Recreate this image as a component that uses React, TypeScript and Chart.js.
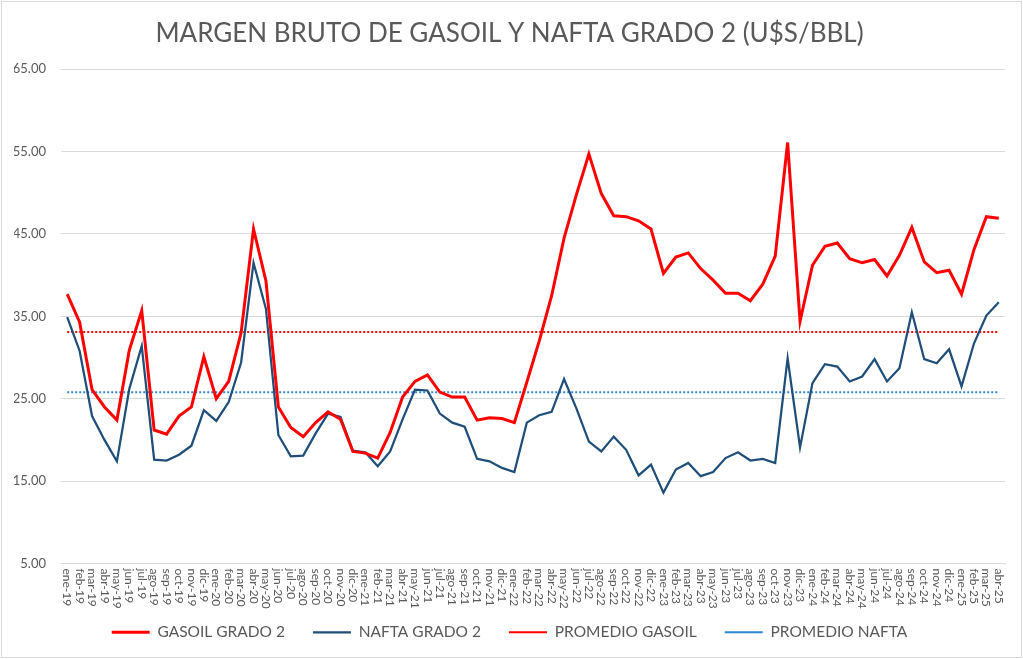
import React, { useEffect, useRef } from "react";
import { Chart, registerables } from "chart.js";

Chart.register(...registerables);

const TITLE = "MARGEN BRUTO DE GASOIL Y NAFTA GRADO 2 (U$S/BBL)";

const LABELS: string[] = [
  "ene-19", "feb-19", "mar-19", "abr-19", "may-19", "jun-19", "jul-19", "ago-19", "sep-19", "oct-19", "nov-19", "dic-19",
  "ene-20", "feb-20", "mar-20", "abr-20", "may-20", "jun-20", "jul-20", "ago-20", "sep-20", "oct-20", "nov-20", "dic-20",
  "ene-21", "feb-21", "mar-21", "abr-21", "may-21", "jun-21", "jul-21", "ago-21", "sep-21", "oct-21", "nov-21", "dic-21",
  "ene-22", "feb-22", "mar-22", "abr-22", "may-22", "jun-22", "jul-22", "ago-22", "sep-22", "oct-22", "nov-22", "dic-22",
  "ene-23", "feb-23", "mar-23", "abr-23", "may-23", "jun-23", "jul-23", "ago-23", "sep-23", "oct-23", "nov-23", "dic-23",
  "ene-24", "feb-24", "mar-24", "abr-24", "may-24", "jun-24", "jul-24", "ago-24", "sep-24", "oct-24", "nov-24", "dic-24",
  "ene-25", "feb-25", "mar-25", "abr-25",
];

const GASOIL: number[] = [
  37.7, 34.3, 26.1, 24.0, 22.4, 30.9, 35.7, 21.2, 20.7, 22.9, 24.0, 30.1,
  25.0, 27.1, 33.0, 45.6, 39.3, 24.0, 21.5, 20.4, 22.1, 23.4, 22.5, 18.6,
  18.4, 17.8, 20.9, 25.2, 27.1, 27.9, 25.8, 25.2, 25.2, 22.4, 22.7, 22.6,
  22.1, 27.0, 32.0, 37.5, 44.5, 49.8, 54.7, 49.9, 47.2, 47.1, 46.6, 45.6,
  40.2, 42.2, 42.7, 40.8, 39.4, 37.8, 37.8, 36.9, 38.9, 42.3, 56.1, 34.4,
  41.2, 43.5, 43.9, 42.0, 41.5, 41.9, 39.9, 42.4, 45.8, 41.6, 40.3, 40.6,
  37.7, 43.1, 47.1, 46.9,
];

const NAFTA: number[] = [
  34.9, 30.8, 22.9, 20.0, 17.4, 26.2, 31.4, 17.6, 17.5, 18.2, 19.3, 23.6,
  22.3, 24.6, 29.4, 41.5, 35.9, 20.6, 18.0, 18.1, 20.8, 23.2, 22.8, 18.7,
  18.5, 16.8, 18.6, 22.5, 26.1, 26.0, 23.2, 22.1, 21.6, 17.7, 17.4, 16.6,
  16.1, 22.1, 23.0, 23.4, 27.4, 23.8, 19.8, 18.6, 20.4, 18.8, 15.7, 17.0,
  13.6, 16.4, 17.2, 15.6, 16.1, 17.8, 18.5, 17.5, 17.7, 17.2, 29.9, 19.1,
  26.9, 29.2, 28.9, 27.1, 27.7, 29.8, 27.1, 28.7, 35.5, 29.8, 29.3, 31.0,
  26.5, 31.7, 35.1, 36.7,
];

const PROMEDIO_GASOIL = 33.1;
const PROMEDIO_NAFTA = 25.8;

const Y_MIN = 5;
const Y_MAX = 65;
const Y_STEP = 10;

const TEXT = "#595959";
const GRID = "#d9d9d9";

const xLabelPlugin = {
  id: "xLabelsDown",
  afterDraw(chart: any) {
    const { ctx, chartArea } = chart;
    const x = chart.scales.x;
    ctx.save();
    ctx.font = "12px Lato";
    ctx.fillStyle = TEXT;
    ctx.textAlign = "left";
    ctx.textBaseline = "middle";
    LABELS.forEach((lab, i) => {
      const px = x.getPixelForValue(i);
      ctx.save();
      ctx.translate(px, chartArea.bottom + 5);
      ctx.rotate(Math.PI / 2);
      ctx.fillText(lab, 0, 0);
      ctx.restore();
    });
    ctx.restore();
  },
};

export default function App() {
  const ref = useRef<HTMLCanvasElement | null>(null);

  useEffect(() => {
    document.body.style.margin = "0";
    if (!ref.current) return;
    Chart.defaults.font.family = "Lato";
    const chart = new Chart(ref.current, {
      type: "line",
      data: {
        labels: LABELS,
        datasets: [
          {
            label: "GASOIL GRADO 2",
            data: GASOIL,
            borderColor: "#ff0000",
            backgroundColor: "#ff0000",
            borderWidth: 3,
            pointRadius: 0,
            pointStyle: "line",
            tension: 0,
          },
          {
            label: "NAFTA GRADO 2",
            data: NAFTA,
            borderColor: "#1f4e79",
            backgroundColor: "#1f4e79",
            borderWidth: 2.25,
            pointRadius: 0,
            pointStyle: "line",
            tension: 0,
          },
          {
            label: "PROMEDIO GASOIL",
            data: LABELS.map(() => PROMEDIO_GASOIL),
            borderColor: "#ff0000",
            backgroundColor: "#ff0000",
            borderWidth: 2,
            borderDash: [2, 2],
            pointRadius: 0,
            pointStyle: "line",
          },
          {
            label: "PROMEDIO NAFTA",
            data: LABELS.map(() => PROMEDIO_NAFTA),
            borderColor: "#2e86d1",
            backgroundColor: "#2e86d1",
            borderWidth: 2,
            borderDash: [2, 2],
            pointRadius: 0,
            pointStyle: "line",
          },
        ],
      },
      options: {
        animation: false,
        responsive: false,
        layout: { padding: { left: 14, right: 18, top: 0, bottom: 9 } },
        plugins: {
          title: {
            display: true,
            text: TITLE,
            color: TEXT,
            font: { size: 26, weight: "normal", family: "Lato" },
            padding: { top: 18, bottom: 20 },
          },
          legend: {
            position: "bottom",
            labels: {
              usePointStyle: true,
              pointStyleWidth: 38,
              color: TEXT,
              font: { size: 15.5, family: "Lato" },
              padding: 28,
            },
          },
          tooltip: { enabled: false },
        },
        scales: {
          x: {
            offset: true,
            grid: { display: false, drawTicks: false },
            border: { display: true, color: GRID },
            ticks: {
              autoSkip: false,
              minRotation: 90,
              maxRotation: 90,
              color: "rgba(0,0,0,0)",
              font: { size: 12, family: "Lato" },
              padding: 4,
            },
            afterFit: (scale: any) => {
              scale.height = 33;
            },
          },
          y: {
            min: Y_MIN,
            max: Y_MAX,
            grid: { color: GRID, drawTicks: false },
            border: { display: false },
            ticks: {
              stepSize: Y_STEP,
              color: TEXT,
              font: { size: 13, family: "Lato" },
              padding: 15,
              callback: (v: any) => Number(v).toFixed(2),
            },
            afterFit: (scale: any) => {
              scale.width = 47;
            },
          },
        },
      },
      plugins: [xLabelPlugin],
    });
    return () => chart.destroy();
  }, []);

  return (
    <div style={{ position: "absolute", left: 0, top: 0, width: 1023, height: 659, background: "#fff" }}>
      <canvas ref={ref} width={1023} height={659} style={{ position: "absolute", left: 0, top: 0, width: 1023, height: 659 }} />
      <div
        style={{
          position: "absolute",
          left: 1,
          top: 1,
          width: 1019,
          height: 655,
          border: "1px solid #d9d9d9",
          pointerEvents: "none",
        }}
      />
    </div>
  );
}
